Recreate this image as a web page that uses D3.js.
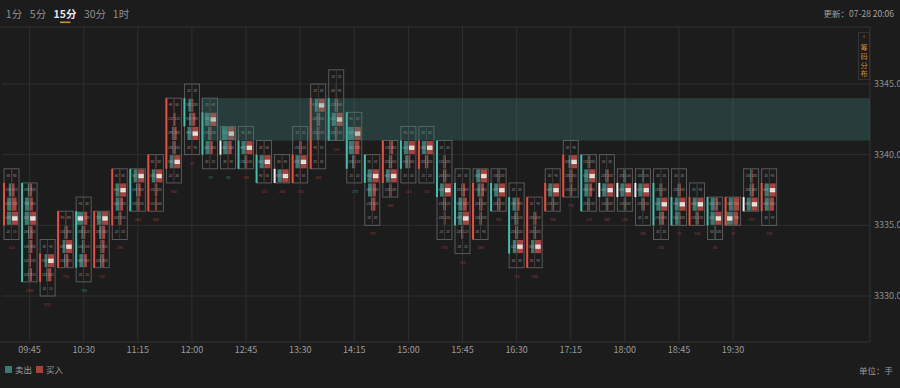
<!DOCTYPE html>
<html lang="zh">
<head>
<meta charset="UTF-8" />
<title>Footprint 15m</title>
<script src="https://d3js.org/d3.v7.min.js"></script>
<style>
  body { margin: 0; background: #1c1c1c; }
  svg { display: block; font-family: "Noto Sans CJK SC", "Noto Sans", sans-serif; }
</style>
</head>
<body>
<svg></svg>
<script>
// 15-min candles, 09:30 .. 20:00
const times = ['09:30','09:45','10:00','10:15','10:30','10:45','11:00','11:15','11:30','11:45',
  '12:00','12:15','12:30','12:45','13:00','13:15','13:30','13:45','14:00','14:15',
  '14:30','14:45','15:00','15:15','15:30','15:45','16:00','16:15','16:30','16:45',
  '17:00','17:15','17:30','17:45','18:00','18:15','18:30','18:45','19:00','19:15',
  '19:30','19:45','20:00'];
const open  = [3335,3338,3331,3332,3336,3332,3335,3339,3336,3339,3344,3343,3340,3341,3340,3338,3338,3339,3344,3343,
  3340,3338,3341,3339,3341,3338,3334,3338,3337,3332,3336,3337,3340,3337,3337,3337,3338,3337,3335,3337,3335,3336,3336];
const close = [3338,3331,3333,3336,3332,3336,3339,3336,3340,3344,3342,3340,3340,3339,3338,3338,3340,3344,3341,3339,
  3338,3341,3339,3341,3337,3335,3338,3336,3333,3337,3338,3340,3336,3337,3337,3337,3335,3335,3337,3335,3337,3336,3338];
const high  = [3339,3338,3334,3336,3337,3336,3339,3339,3340,3344,3345,3344,3342,3342,3341,3340,3342,3345,3346,3343,
  3340,3341,3342,3342,3341,3339,3339,3339,3338,3337,3339,3341,3340,3340,3339,3339,3339,3339,3338,3337,3337,3339,3339];
const low   = [3334,3331,3330,3332,3331,3332,3334,3336,3336,3338,3340,3339,3339,3339,3338,3338,3338,3339,3341,3338,
  3335,3337,3338,3338,3334,3333,3334,3336,3332,3332,3336,3337,3336,3336,3336,3335,3334,3335,3335,3334,3335,3336,3335];

// volume per price level, from low level upward
const sellVol = [
  [20,640,610,380,60], [200,150,180,260,820,760,300], [10,180,420,30], [200,380,150,40],
  [20,600,250,300,900,40], [250,200,380,700], [20,200,620,640,60], [180,260,620],
  [120,150,550,60], [20,560,200,240,120,40], [30,640,420,500,20], [30,620,240,700,20],
  [30,650,820], [200,600,40], [40,620,30], [600,30], [40,650,150,20],
  [30,40,180,200,420,20], [200,620,220,60,20], [20,300,760,850,40], [20,200,600,650,40],
  [150,600,200,150], [30,420,620,40], [20,200,600,30], [20,100,180,620,200,150,30],
  [20,200,640,600,180,30], [30,150,200,420,600], [200,600,150], [30,520,200,300,560,30],
  [30,500,150,180,30], [150,600,30], [150,200,300,30], [200,600,620,150],
  [150,620,200,30], [150,600,200], [30,200,620,100], [30,250,620,200,30],
  [520,560,200,30], [200,600,30], [80,620,600], [900,600], [600,200,150], [30,600,620,30]
];
const buyVol = [
  [15,900,700,420,90], [420,250,480,520,1100,560,430], [15,520,900,40], [350,820,260,90],
  [15,450,150,220,500,30], [380,420,500,950], [20,250,500,980,80], [250,420,950],
  [160,200,900,80], [30,880,260,380,220,60], [40,920,480,200,30], [20,380,200,900,40],
  [40,500,880], [150,850,30], [50,900,60], [850,40], [50,900,220,20],
  [30,50,150,250,820,30], [150,900,260,40,20], [20,150,700,900,30], [30,420,500,900,30],
  [180,880,250,380], [30,260,880,40], [20,250,860,30], [20,150,220,900,250,200,30],
  [20,120,950,620,380,30], [40,200,260,480,900], [250,880,150], [30,880,200,220,400,30],
  [40,900,200,250,40], [200,880,40], [220,250,900,40], [150,450,880,200],
  [200,880,250,30], [180,860,150], [30,250,880,150], [30,420,880,200,30],
  [200,880,250,30], [250,880,40], [100,880,400], [700,850], [880,380,200], [40,650,880,40]
];

const axisLabels = ['09:45','10:30','11:15','12:00','12:45','13:30','14:15','15:00','15:45','16:30','17:15','18:00','18:45','19:30'];
const priceTicks = [3330, 3335, 3340, 3345];
const valueArea = { from: '12:15', low: 3341, high: 3344 };
const periods = ['1分', '5分', '15分', '30分', '1时'];

const W = 900, H = 388;
const plotR = 870, plotT = 27, plotB = 342;
const RED = '#a6433f', TEAL = '#3b7a72';

const svg = d3.select('svg').attr('width', W).attr('height', H);
svg.append('rect').attr('width', W).attr('height', H).attr('fill', '#1c1c1c');

const x = d3.scaleBand().domain(times).range([2.5, 778.2]);
const y = d3.scaleLinear().domain([3330, 3345]).range([296, 84]);
const cx = t => x(t) + x.bandwidth() / 2;
const rowH = y(3344) - y(3345);

// grid
const grid = svg.append('g');
grid.selectAll('.hg').data(priceTicks).join('line')
  .attr('x1', 2).attr('x2', plotR).attr('y1', d => y(d)).attr('y2', d => y(d))
  .attr('stroke', '#2f2f2f');
grid.selectAll('.vg').data(axisLabels).join('line')
  .attr('x1', d => cx(d)).attr('x2', d => cx(d)).attr('y1', plotT).attr('y2', plotB)
  .attr('stroke', '#2f2f2f');
grid.append('path')
  .attr('d', `M0,${plotT}H${plotR}V${plotB}H0`)
  .attr('fill', 'none').attr('stroke', '#333');

// candles
const boxW = 15, colW = 6.5;
const candles = svg.append('g');
times.forEach((t, i) => {
  const c = cx(t);
  const g = candles.append('g');
  const sv = sellVol[i], bv = buyVol[i];
  const vmax = d3.max(sv.concat(bv));
  const dir = close[i] > open[i] ? 1 : close[i] < open[i] ? -1 : 0;

  sv.forEach((s, k) => {
    const lvl = low[i] + k;
    const top = y(lvl + 1), b = bv[k];
    const ws = s / vmax * colW, wb = b / vmax * colW;
    g.append('rect').attr('x', c - ws).attr('y', top + 0.5).attr('width', ws).attr('height', rowH - 1).attr('fill', TEAL);
    g.append('rect').attr('x', c).attr('y', top + 0.5).attr('width', wb).attr('height', rowH - 1).attr('fill', RED);
    if (s === vmax) {
      g.append('rect').attr('x', c - ws + 0.5).attr('y', top + rowH * 0.36).attr('width', ws - 1).attr('height', rowH * 0.3).attr('fill', '#f1e4e2');
    } else if (b === vmax) {
      g.append('rect').attr('x', c + 0.5).attr('y', top + rowH * 0.36).attr('width', wb - 1).attr('height', rowH * 0.3).attr('fill', '#f1e4e2');
    }
    g.append('text').attr('x', c - colW / 2).attr('y', top + rowH / 2 + 1).attr('text-anchor', 'middle')
      .attr('font-size', 3.2).attr('fill', '#bdbdbd').attr('opacity', 0.7).text(s);
    g.append('text').attr('x', c + colW / 2).attr('y', top + rowH / 2 + 1).attr('text-anchor', 'middle')
      .attr('font-size', 3.2).attr('fill', '#bdbdbd').attr('opacity', 0.7).text(b);
  });

  // box outline and centre divider
  g.append('rect').attr('x', c - boxW / 2).attr('y', y(high[i])).attr('width', boxW)
    .attr('height', y(low[i]) - y(high[i])).attr('fill', 'none').attr('stroke', '#606060').attr('stroke-width', 0.9);
  g.append('line').attr('x1', c).attr('x2', c).attr('y1', y(high[i])).attr('y2', y(low[i]))
    .attr('stroke', '#3a3a3a').attr('stroke-width', 0.6);

  // open-close bar on the left edge
  const bTop = dir === 0 ? y(open[i] + 1) : y(Math.max(open[i], close[i]));
  const bBot = dir === 0 ? y(open[i]) : y(Math.min(open[i], close[i]));
  g.append('rect').attr('x', c - boxW / 2 - 1).attr('y', bTop).attr('width', 2).attr('height', bBot - bTop)
    .attr('fill', dir > 0 ? '#ee4c3c' : dir < 0 ? '#44bfae' : '#eeeeee');

  // delta under the box
  const delta = d3.sum(bv) - d3.sum(sv);
  g.append('text').attr('x', c).attr('y', y(low[i]) + 10).attr('text-anchor', 'middle')
    .attr('font-size', 3.6).attr('fill', delta >= 0 ? '#8e3a36' : '#2f8374').text(delta);
});

// value area band, drawn over the candles
const bandX = x(valueArea.from);
svg.append('rect').attr('x', bandX).attr('y', y(valueArea.high)).attr('width', plotR - bandX)
  .attr('height', y(valueArea.low) - y(valueArea.high)).attr('fill', '#3f8a84').attr('opacity', 0.3);

// price axis
svg.selectAll('.py').data(priceTicks).join('text')
  .attr('x', 874).attr('y', d => y(d) + 3).attr('font-size', 9).attr('fill', '#8c8c8c')
  .text(d => d.toFixed(1));

// time axis
svg.selectAll('.tx').data(axisLabels).join('text')
  .attr('x', d => cx(d)).attr('y', 353).attr('text-anchor', 'middle').attr('font-size', 9).attr('fill', '#9a9a9a')
  .text(d => d);

// header tabs
const tabX = [14, 38, 65, 95, 121];
svg.selectAll('.tab').data(periods).join('text')
  .attr('x', (d, i) => tabX[i]).attr('y', 18).attr('text-anchor', 'middle')
  .attr('font-size', 10.5).attr('font-weight', d => d === '15分' ? 'bold' : 'normal')
  .attr('fill', d => d === '15分' ? '#e6e6e6' : '#8f8f8f').text(d => d);
svg.append('rect').attr('x', 60).attr('y', 21.5).attr('width', 10.5).attr('height', 1.6).attr('fill', '#d08b2c');

svg.append('text').attr('x', 894).attr('y', 17).attr('text-anchor', 'end').attr('font-size', 8.5)
  .attr('fill', '#a0a0a0').text('更新：07-28 20:06');

// chip distribution toggle
svg.append('rect').attr('x', 858.5).attr('y', 32.5).attr('width', 11).attr('height', 47)
  .attr('fill', '#1c1c1c').attr('stroke', '#333');
['‹', '筹', '码', '分', '布'].forEach((ch, i) => {
  svg.append('text').attr('x', 864).attr('y', i === 0 ? 39 : 41.2 + i * 8.8).attr('text-anchor', 'middle')
    .attr('font-size', 7.2).attr('fill', '#c98a30').text(ch);
});

// legend
svg.append('rect').attr('x', 5).attr('y', 366).attr('width', 7).attr('height', 7).attr('fill', TEAL);
svg.append('text').attr('x', 15).attr('y', 373).attr('font-size', 8.5).attr('fill', '#9a9a9a').text('卖出');
svg.append('rect').attr('x', 36).attr('y', 366).attr('width', 7).attr('height', 7).attr('fill', RED);
svg.append('text').attr('x', 46).attr('y', 373).attr('font-size', 8.5).attr('fill', '#9a9a9a').text('买入');
svg.append('text').attr('x', 893).attr('y', 374).attr('text-anchor', 'end').attr('font-size', 8.5)
  .attr('fill', '#9a9a9a').text('单位：手');
</script>
</body>
</html>
